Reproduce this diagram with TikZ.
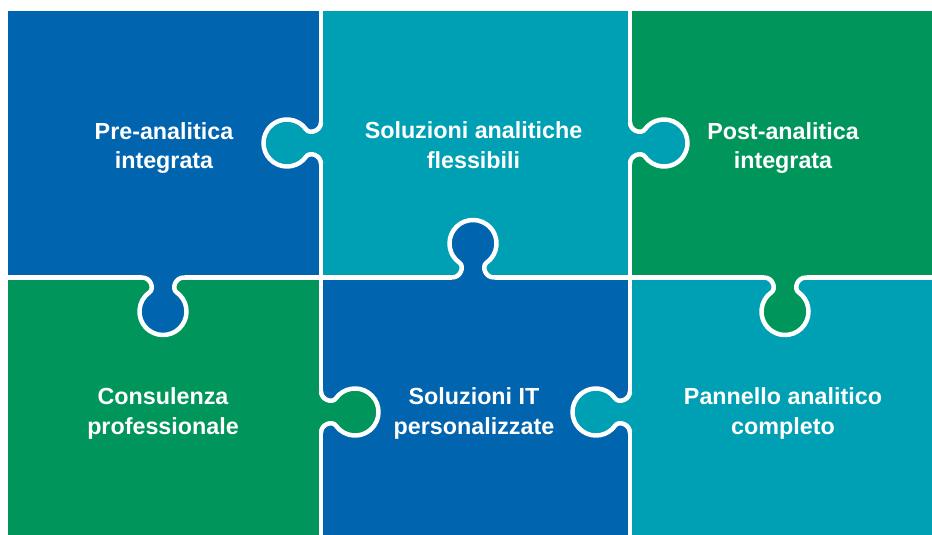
\documentclass[tikz,border=0pt]{standalone}
\usepackage{fontspec}
\setmainfont{Liberation Sans}
\definecolor{rblue}{RGB}{0,100,174}
\definecolor{rteal}{RGB}{0,160,180}
\definecolor{rgreen}{RGB}{0,149,90}
\tikzset{
  cut/.style={white, line width=4.5pt, line join=round},
  plabel/.style={text=white, font=\bfseries\fontsize{23.3}{29.3}\selectfont, align=center, inner sep=0pt}
}
\newcommand\pzknob[4]{%
  \begin{scope}[shift={(#1,#2)},rotate=#3]
    \fill[#4] (21,0) -- (21,-3) -- (-21,-3) -- (-21,0)
      .. controls (-12,0) and (-8.57,11.3) .. (-13.48,14.75)
      arc[start angle=235,end angle=-55,radius=23.5]
      .. controls (8.57,11.3) and (12,0) .. (21,0) -- cycle;
    \draw[cut] (-21,0)
      .. controls (-12,0) and (-8.57,11.3) .. (-13.48,14.75)
      arc[start angle=235,end angle=-55,radius=23.5]
      .. controls (8.57,11.3) and (12,0) .. (21,0);
  \end{scope}}
\begin{document}
\begin{tikzpicture}[x=1pt,y=1pt]
\useasboundingbox (0,0) rectangle (932,535);
\fill[white] (0,0) rectangle (932,535);
% pieces
\fill[rblue]  (8,257.5) rectangle (321,524);
\fill[rteal]  (321,257.5) rectangle (630,524);
\fill[rgreen] (630,257.5) rectangle (932,524);
\fill[rgreen] (8,0) rectangle (321,257.5);
\fill[rblue]  (321,0) rectangle (630,257.5);
\fill[rteal]  (630,0) rectangle (932,257.5);
% straight cuts
\draw[cut] (321,524) -- (321,0);
\draw[cut] (630,524) -- (630,0);
\draw[cut] (8,257.5) -- (932,257.5);
% knobs
\pzknob{321}{392}{90}{rteal}
\pzknob{321}{123}{-90}{rgreen}
\pzknob{630}{392}{-90}{rteal}
\pzknob{630}{123}{90}{rteal}
\pzknob{163}{257.5}{180}{rblue}
\pzknob{473}{257.5}{0}{rblue}
\pzknob{785}{257.5}{180}{rgreen}
% labels
\node[plabel] (l1) at (164,387.3) {Pre-analitica\\integrata};
\node[plabel] (l2) at (473.5,389.8) {Soluzioni analitiche\\flessibili};
\node[plabel] (l3) at (783,387.3) {Post-analitica\\integrata};
\node[plabel] (l4) at (163,121.4) {Consulenza\\professionale};
\node[plabel] (l5) at (474,121.4) {Soluzioni IT\\personalizzate};
\node[plabel] (l6) at (783,121.4) {Pannello analitico\\completo};
\end{tikzpicture}
\end{document}
